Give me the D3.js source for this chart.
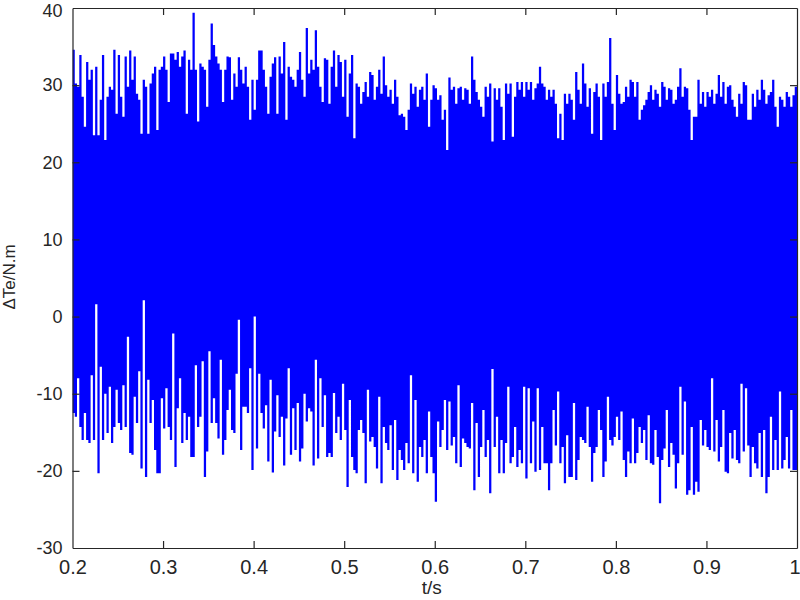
<!DOCTYPE html>
<html>
<head>
<meta charset="utf-8">
<script src="https://cdn.jsdelivr.net/npm/d3@7"></script>
<style>
  html, body { margin: 0; padding: 0; background: #fff; }
  svg { display: block; }
  text { font-family: "Liberation Sans", Arial, sans-serif; fill: #262626; }
</style>
</head>
<body>
<svg id="chart" width="800" height="600"></svg>
<script>
// ---- data ----
const tStart = 0.2;
const tStep = 0.0025;            // one sample per ~2.3 px column
const xTicks = [0.2, 0.3, 0.4, 0.5, 0.6, 0.7, 0.8, 0.9, 1];
const xTickLabels = ["0.2", "0.3", "0.4", "0.5", "0.6", "0.7", "0.8", "0.9", "1"];
const yTicks = [-30, -20, -10, 0, 10, 20, 30, 40];
const yTickLabels = ["-30", "-20", "-10", "0", "10", "20", "30", "40"];
const xLabel = "t/s";
const yLabel = "\u0394Te/N.m";

// upper peaks of the torque ripple, per column
const peakHigh = [
  34.6,30.2,29.8,33.9,28.5,24.6,33.0,30.7,32.0,23.5,32.4,23.5,28.1,33.9,22.9,28.5,29.8,29.4,34.6,26.3,
  33.9,28.5,25.9,33.7,29.8,34.5,30.7,33.7,28.9,28.1,23.7,30.7,29.8,23.7,30.2,31.5,32.4,24.2,32.0,32.4,
  33.7,32.0,27.8,34.1,34.1,33.3,34.3,32.4,33.7,34.5,26.3,33.3,32.0,39.4,32.0,25.3,32.8,32.4,32.0,27.2,
  33.3,38.0,35.2,33.7,32.8,32.0,27.8,32.0,33.7,33.6,28.1,31.5,29.8,33.6,32.0,30.2,32.4,29.8,25.5,30.7,
  26.8,30.7,34.5,34.5,32.0,29.8,26.3,31.1,32.8,33.6,26.3,33.7,31.5,35.6,25.5,32.4,31.1,30.7,29.8,32.0,
  34.3,30.7,28.5,37.4,31.5,33.3,32.0,37.1,32.4,29.8,27.8,33.5,33.3,27.6,32.4,34.5,29.8,33.9,33.0,28.5,
  33.3,25.9,31.5,33.9,23.1,30.2,29.8,27.6,29.1,30.4,28.5,31.7,31.3,28.1,29.8,32.0,28.9,33.7,30.0,28.5,
  29.4,27.6,30.7,28.5,26.1,26.3,25.9,24.2,26.8,30.2,28.9,29.8,27.2,29.4,29.8,28.1,31.5,24.6,28.1,30.0,
  29.6,28.1,28.7,25.5,26.8,21.6,31.0,29.4,29.8,27.6,29.6,29.8,28.1,29.6,29.4,27.6,33.7,30.7,29.1,28.1,
  27.2,25.9,29.8,28.5,30.2,22.7,29.6,28.1,29.6,27.2,22.9,30.2,28.9,30.2,23.3,28.5,30.4,29.4,30.4,28.5,
  30.4,29.4,30.4,28.1,29.6,30.2,32.4,30.2,29.8,28.1,29.4,28.5,29.4,27.6,23.1,26.3,22.9,28.9,27.6,28.9,
  28.1,25.5,31.7,29.4,27.6,32.8,30.2,27.2,29.6,23.7,29.1,30.2,28.5,22.9,30.2,28.5,30.4,36.1,27.6,24.2,
  31.3,28.9,27.6,27.8,29.8,28.5,30.7,30.4,28.5,30.4,25.5,26.8,27.4,28.1,29.1,30.0,28.1,29.4,28.9,27.2,
  30.4,29.8,28.1,29.6,29.4,27.6,28.1,29.8,32.2,28.5,29.8,29.6,26.8,22.9,25.9,25.9,30.7,27.6,29.1,27.2,
  29.1,28.5,29.4,27.6,28.9,31.3,28.5,30.4,27.6,29.8,30.0,28.1,27.2,25.9,28.9,27.6,30.4,30.0,25.5,25.5,
  28.9,27.2,29.4,28.1,30.7,29.4,27.6,28.7,29.1,30.7,27.2,24.6,28.5,28.1,27.2,29.1,28.5,27.2,28.7,29.8
];

// lower peaks of the torque ripple, per column
const peakLow = [
  -12.5,-13.0,-8.0,-14.3,-16.0,-12.5,-16.0,-16.4,-7.6,-16.0,1.6,-20.3,-6.5,-16.0,-10.0,-15.1,-9.1,-16.4,-14.3,-9.5,
  -13.8,-14.7,-8.9,-14.3,-2.6,-17.7,-17.9,-10.4,-13.8,-7.1,-19.7,2.1,-20.8,-8.2,-13.8,-10.8,-17.3,-20.3,-20.3,-10.6,
  -14.5,-9.3,-14.3,-16.0,-2.2,-19.5,-11.9,-8.0,-16.4,-12.5,-16.0,-13.0,-18.2,-18.2,-6.3,-14.3,-13.0,-5.8,-20.8,-17.5,
  -4.5,-13.8,-10.6,-13.8,-15.8,-5.6,-17.9,-16.0,-12.1,-9.5,-14.7,-15.1,-7.4,-0.4,-17.3,-11.7,-11.7,-12.5,-6.7,-19.9,
  0.0,-17.1,-7.4,-12.5,-14.5,-11.5,-18.8,-8.2,-20.2,-14.9,-10.2,-15.6,-13.0,-19.3,-13.2,-6.7,-17.9,-11.9,-17.3,-11.2,
  -18.8,-17.1,-10.0,-13.6,-11.9,-12.3,-19.3,-5.6,-18.4,-8.0,-14.3,-10.2,-18.2,-17.7,-18.2,-9.9,-15.1,-13.0,-16.0,-8.7,
  -14.7,-22.1,-10.8,-18.2,-19.9,-20.3,-14.7,-13.4,-15.1,-21.6,-9.5,-16.2,-15.6,-16.9,-19.7,-10.4,-21.6,-14.3,-16.4,-17.3,
  -14.1,-19.9,-13.4,-21.2,-17.3,-18.6,-19.9,-16.4,-19.0,-7.6,-20.3,-10.8,-21.4,-16.9,-18.2,-16.0,-20.3,-12.3,-18.2,-20.3,
  -24.0,-13.6,-16.9,-14.7,-10.8,-17.3,-11.0,-16.7,-15.6,-19.0,-8.9,-19.5,-15.8,-16.4,-16.9,-17.1,-11.2,-22.5,-13.8,-20.8,
  -16.9,-12.1,-18.2,-16.0,-22.9,-6.8,-16.9,-13.0,-20.3,-16.0,-20.3,-16.4,-9.1,-19.0,-18.2,-14.3,-19.5,-17.3,-19.0,-9.1,
  -21.0,-9.3,-19.0,-13.6,-20.1,-9.3,-19.9,-14.3,-19.0,-19.0,-22.5,-19.0,-12.1,-16.7,-9.7,-19.0,-16.9,-21.6,-15.4,-20.8,
  -20.8,-11.2,-21.2,-18.6,-15.6,-16.0,-16.4,-11.7,-16.9,-21.4,-17.7,-16.9,-12.1,-14.7,-20.8,-18.8,-10.4,-16.0,-16.7,-15.6,
  -13.0,-16.0,-12.3,-18.6,-20.8,-17.5,-19.0,-13.2,-19.0,-17.7,-14.3,-16.4,-14.7,-18.6,-12.8,-19.0,-19.2,-14.7,-18.2,-24.2,
  -18.6,-17.1,-12.1,-19.5,-16.4,-17.9,-22.3,-19.0,-9.1,-17.9,-11.0,-23.1,-22.5,-14.3,-23.1,-21.4,-22.7,-13.4,-16.7,-14.7,
  -16.9,-17.3,-8.0,-17.5,-13.4,-18.8,-16.9,-12.1,-20.1,-20.3,-15.1,-18.4,-14.7,-18.6,-19.0,-8.7,-17.5,-9.3,-16.7,-20.8,
  -16.9,-19.0,-19.7,-15.1,-20.8,-14.7,-22.9,-20.8,-13.0,-19.9,-16.0,-19.9,-9.7,-19.7,-18.6,-15.6,-19.7,-12.1,-19.9,-19.9
];

// ---- layout ----
const L = 72.5, R = 797, T = 8, B = 548;
const svg = d3.select("#chart");

const x = d3.scaleLinear().domain([0.2, 1]).range([L, R]);
const y = d3.scaleLinear().domain([-30, 40]).range([B, T]);

const samples = peakHigh.map((h, i) => ({ t: tStart + i * tStep, hi: h, lo: peakLow[i] }));
samples.push({ t: 1, hi: peakHigh[peakHigh.length - 1], lo: peakLow[peakLow.length - 1] });

svg.append("clipPath").attr("id", "clip")
  .append("rect").attr("x", L).attr("y", T).attr("width", R - L).attr("height", B - T);

const area = d3.area()
  .x(d => x(d.t))
  .y0(d => y(d.lo))
  .y1(d => y(d.hi))
  .curve(d3.curveStepAfter);

svg.append("path")
  .datum(samples)
  .attr("clip-path", "url(#clip)")
  .attr("d", area)
  .attr("fill", "#0000ff")
  .attr("stroke", "none");

// ---- axes (MATLAB style box, ticks inward) ----
const axisColor = "#262626";
const tickLen = 7;

const gx = svg.append("g").attr("transform", `translate(0,${B})`)
  .call(d3.axisBottom(x).tickValues(xTicks).tickFormat((d, i) => xTickLabels[i])
        .tickSizeInner(-tickLen).tickSizeOuter(0).tickPadding(12));
const gxTop = svg.append("g").attr("transform", `translate(0,${T})`)
  .call(d3.axisTop(x).tickValues(xTicks).tickFormat("")
        .tickSizeInner(-tickLen).tickSizeOuter(0));
const gy = svg.append("g").attr("transform", `translate(${L},0)`)
  .call(d3.axisLeft(y).tickValues(yTicks).tickFormat((d, i) => yTickLabels[i])
        .tickSizeInner(-tickLen).tickSizeOuter(0).tickPadding(10));
const gyR = svg.append("g").attr("transform", `translate(${R},0)`)
  .call(d3.axisRight(y).tickValues(yTicks).tickFormat("")
        .tickSizeInner(-tickLen).tickSizeOuter(0));

[gx, gxTop, gy, gyR].forEach(g => {
  g.selectAll("path.domain").attr("stroke", axisColor).attr("stroke-width", 1.2);
  g.selectAll(".tick line").attr("stroke", axisColor).attr("stroke-width", 1.2);
  g.selectAll(".tick text").attr("fill", axisColor)
    .style("font-family", "'Liberation Sans', Arial, sans-serif");
});
gx.selectAll(".tick text").style("font-size", "20px");
gy.selectAll(".tick text").style("font-size", "18px");

// keep the edge labels inside the picture
gx.selectAll(".tick text").filter(d => d === 1).attr("text-anchor", "end").attr("x", 3);
gy.selectAll(".tick text").filter(d => d === 40).attr("dy", "0.45em");

// hide the end ticks that coincide with the box edges
gx.selectAll(".tick line").filter(d => d === 0.2 || d === 1).remove();
gxTop.selectAll(".tick line").filter(d => d === 0.2 || d === 1).remove();
gy.selectAll(".tick line").filter(d => d === -30 || d === 40).remove();
gyR.selectAll(".tick line").filter(d => d === -30 || d === 40).remove();

// axis labels
svg.append("text")
  .attr("x", (L + R) / 2 - 3).attr("y", 594)
  .attr("text-anchor", "middle")
  .style("font-size", "19px")
  .text(xLabel);

svg.append("text")
  .attr("transform", `translate(15,${277}) rotate(-90)`)
  .attr("text-anchor", "middle")
  .style("font-size", "17px")
  .text(yLabel);
</script>
</body>
</html>
